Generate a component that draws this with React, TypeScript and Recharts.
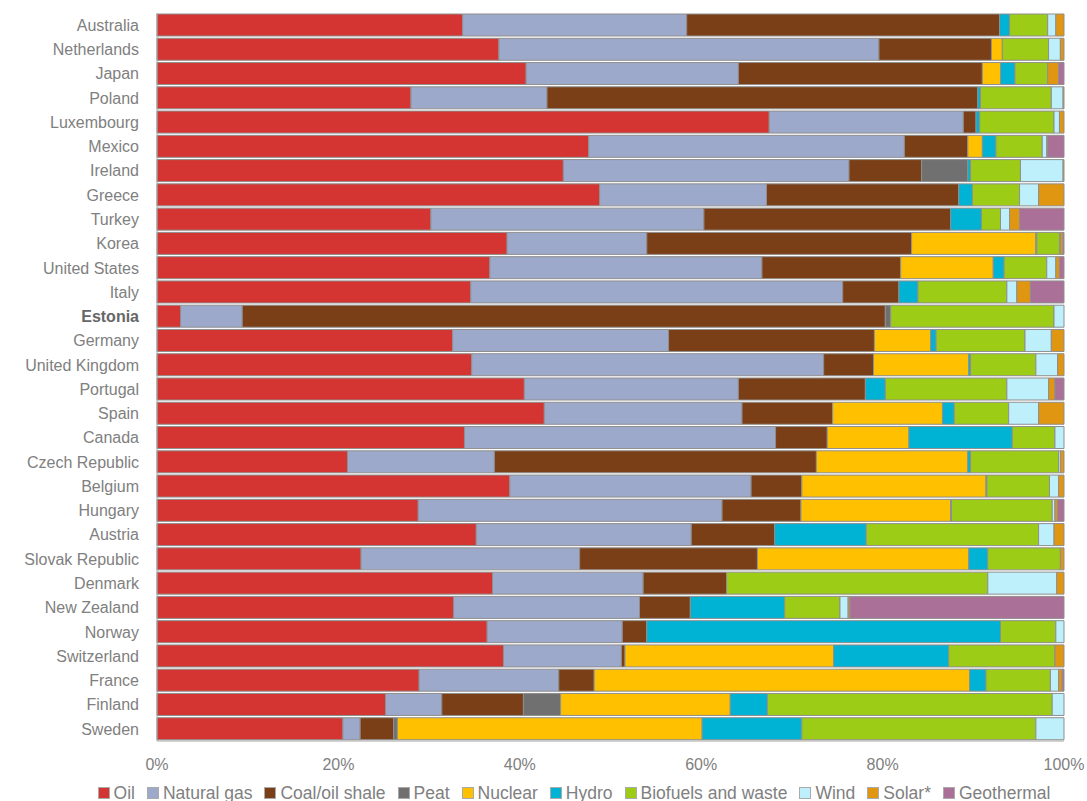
import { Bar, BarChart, XAxis, YAxis, Legend } from "recharts"

const countries = [
  "Australia", "Netherlands", "Japan", "Poland", "Luxembourg", "Mexico", "Ireland", "Greece", "Turkey", "Korea",
  "United States", "Italy", "Estonia", "Germany", "United Kingdom", "Portugal", "Spain", "Canada", "Czech Republic", "Belgium",
  "Hungary", "Austria", "Slovak Republic", "Denmark", "New Zealand", "Norway", "Switzerland", "France", "Finland", "Sweden",
]

// shares of total primary energy supply, %
const oil = [33.7, 37.7, 40.7, 28.0, 67.5, 47.6, 44.8, 48.8, 30.2, 38.6, 36.7, 34.6, 2.6, 32.6, 34.7, 40.5, 42.7, 33.9, 21.0, 38.9, 28.8, 35.2, 22.5, 37.0, 32.7, 36.4, 38.2, 28.9, 25.2, 20.5]
const naturalGas = [24.7, 41.9, 23.4, 15.0, 21.4, 34.8, 31.5, 18.4, 30.1, 15.4, 30.0, 41.0, 6.8, 23.8, 38.8, 23.6, 21.8, 34.3, 16.2, 26.6, 33.5, 23.7, 24.1, 16.6, 20.5, 14.9, 13.0, 15.4, 6.2, 1.9]
const coal = [34.5, 12.4, 26.9, 47.5, 1.4, 7.0, 8.0, 21.2, 27.2, 29.2, 15.3, 6.2, 70.9, 22.7, 5.5, 14.0, 10.0, 5.7, 35.5, 5.6, 8.7, 9.2, 19.6, 9.2, 5.6, 2.7, 0.4, 3.9, 9.0, 3.7]
const peat = [0, 0, 0, 0, 0, 0, 5.1, 0, 0, 0, 0, 0, 0.6, 0, 0, 0, 0, 0, 0, 0, 0, 0, 0, 0, 0, 0, 0, 0, 4.1, 0.4]
const nuclear = [0, 1.2, 2.0, 0, 0, 1.6, 0, 0, 0, 13.7, 10.2, 0, 0, 6.2, 10.5, 0, 12.1, 9.0, 16.7, 20.3, 16.5, 0, 23.3, 0, 0, 0, 23.0, 41.4, 18.7, 33.6]
const hydro = [1.1, 0, 1.6, 0.3, 0.4, 1.5, 0.3, 1.5, 3.4, 0.1, 1.2, 2.1, 0, 0.6, 0.2, 2.2, 1.3, 11.4, 0.3, 0.1, 0.1, 10.1, 2.1, 0, 10.4, 39.0, 12.7, 1.8, 4.1, 11.0]
const biofuels = [4.2, 5.1, 3.6, 7.8, 8.2, 5.1, 5.5, 5.2, 2.1, 2.5, 4.7, 9.8, 18.0, 9.8, 7.2, 13.4, 6.0, 4.7, 9.7, 6.9, 11.1, 19.0, 8.0, 28.8, 6.1, 6.1, 11.7, 7.1, 31.4, 25.8]
const wind = [0.9, 1.3, 0, 1.3, 0.6, 0.5, 4.7, 2.1, 1.0, 0.1, 1.0, 1.1, 1.1, 2.9, 2.4, 4.6, 3.3, 1.0, 0.2, 1.0, 0.3, 1.7, 0, 7.6, 0.9, 0.9, 0, 0.9, 1.3, 3.1]
const solar = [0.9, 0.4, 1.2, 0.1, 0.5, 0.1, 0.1, 2.8, 1.1, 0.3, 0.4, 1.5, 0, 1.4, 0.7, 0.7, 2.8, 0, 0.4, 0.6, 0.3, 1.1, 0.4, 0.8, 0.2, 0, 1.0, 0.4, 0, 0]
const geothermal = [0, 0, 0.6, 0, 0, 1.8, 0, 0, 4.9, 0.1, 0.5, 3.7, 0, 0, 0, 1.0, 0, 0, 0, 0, 0.7, 0, 0, 0, 23.6, 0, 0, 0.2, 0, 0]

const xTicks = [0, 0.2, 0.4, 0.6, 0.8, 1]

const series = [
  { key: "oil", name: "Oil", values: oil, color: "#d43532" },
  { key: "gas", name: "Natural gas", values: naturalGas, color: "#9da9cb" },
  { key: "coal", name: "Coal/oil shale", values: coal, color: "#7b3f17" },
  { key: "peat", name: "Peat", values: peat, color: "#707070" },
  { key: "nuclear", name: "Nuclear", values: nuclear, color: "#ffc000" },
  { key: "hydro", name: "Hydro", values: hydro, color: "#00b2d4" },
  { key: "bio", name: "Biofuels and waste", values: biofuels, color: "#9dcc16" },
  { key: "wind", name: "Wind", values: wind, color: "#bdf0fb" },
  { key: "solar", name: "Solar*", values: solar, color: "#e09611" },
  { key: "geo", name: "Geothermal", values: geothermal, color: "#ab7097" },
]

const data = countries.map((country, i) => {
  const row: Record<string, string | number> = { country }
  series.forEach((s) => {
    row[s.key] = s.values[i]
  })
  return row
})

const font = "'Liberation Sans', Arial, sans-serif"

function CountryTick(props: any) {
  const { x, y, payload } = props
  const bold = payload.value === "Estonia"
  return (
    <text
      x={x}
      y={y}
      dy="0.36em"
      textAnchor="end"
      fontFamily={font}
      fontSize={16}
      fontWeight={bold ? 700 : 400}
      fill={bold ? "#666" : "#808080"}
    >
      {payload.value}
    </text>
  )
}

function LegendRow() {
  return (
    <div
      style={{
        display: "flex",
        justifyContent: "center",
        gap: 12,
        fontFamily: font,
        fontSize: 17.5,
        lineHeight: "16px",
        color: "#808080",
        whiteSpace: "nowrap",
        marginLeft: 84,
      }}
    >
      {series.map((s) => (
        <span key={s.key} style={{ display: "flex", alignItems: "center" }}>
          <span
            style={{
              display: "inline-block",
              width: 10,
              height: 10,
              background: s.color,
              border: "1px solid #aaa",
              marginRight: 4,
            }}
          />
          {s.name}
        </span>
      ))}
    </div>
  )
}

export default function App() {
  return (
    <div style={{ position: "absolute", left: 0, top: 0, width: 1087, height: 801, background: "#fff" }}>
      <BarChart
        width={1087}
        height={801}
        data={data}
        layout="vertical"
        stackOffset="expand"
        barCategoryGap={1}
        margin={{ top: 13, right: 23, left: 0, bottom: 0 }}
      >
        <XAxis
          type="number"
          domain={[0, 1]}
          ticks={xTicks}
          tickFormatter={(v) => `${Math.round(v * 100)}%`}
          axisLine={{ stroke: "#a6a6a6" }}
          tickLine={false}
          tickMargin={12}
          height={44}
          tick={{ fill: "#808080", fontSize: 16, fontFamily: font }}
        />
        <YAxis
          type="category"
          dataKey="country"
          width={157}
          axisLine={{ stroke: "#a6a6a6" }}
          tickLine={false}
          tickMargin={12}
          interval={0}
          tick={<CountryTick />}
        />
        <Legend verticalAlign="bottom" height={16} content={() => <LegendRow />} />
        {series.map((s) => (
          <Bar
            key={s.key}
            dataKey={s.key}
            name={s.name}
            stackId="a"
            fill={s.color}
            stroke="#8f8f8f"
            strokeWidth={1}
            isAnimationActive={false}
          />
        ))}
      </BarChart>
    </div>
  )
}
